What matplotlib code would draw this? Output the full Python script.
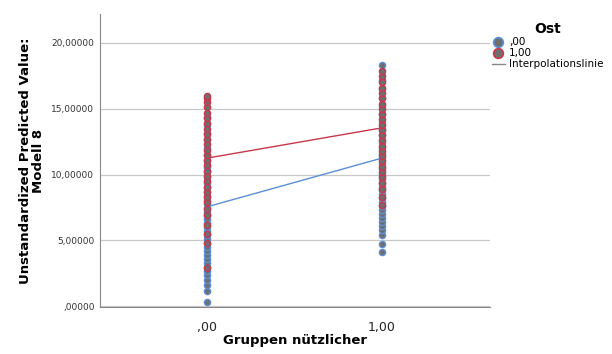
import numpy as np
import matplotlib.pyplot as plt
from matplotlib.lines import Line2D

# predicted values per group (Gruppen nuetzlicher = 0 / 1), split by Ost
blue_x0 = [0.3, 1.2, 1.6, 2.0, 2.4, 2.7, 3.0, 3.3, 3.6, 3.9, 4.2, 4.5, 4.8, 5.1, 5.4, 5.7,
           6.0, 6.3, 6.6, 6.9, 7.2, 7.5, 7.8, 8.1, 8.4, 8.7, 9.0, 9.4, 9.8, 10.2, 10.6,
           11.0, 11.5, 12.0, 12.6, 13.2, 13.8, 14.4]
red_x0 = [2.9, 4.8, 5.5, 6.2, 6.9, 7.4, 7.9, 8.3, 8.7, 9.1, 9.5, 9.9, 10.3, 10.7, 11.1,
          11.5, 11.9, 12.3, 12.7, 13.1, 13.5, 13.9, 14.3, 14.7, 15.1, 15.5, 15.8, 16.0]
blue_x1 = [4.15, 4.7, 5.45, 5.8, 6.1, 6.4, 6.7, 7.0, 7.3, 7.6, 7.9, 8.2, 8.5, 8.8, 9.1,
           9.4, 9.7, 10.0, 10.4, 10.8, 11.2, 11.6, 12.0, 12.5, 13.0, 13.5, 14.0, 14.6,
           15.2, 15.8, 16.5, 17.2, 18.3]
red_x1 = [7.7, 8.3, 8.9, 9.4, 9.8, 10.2, 10.6, 11.0, 11.4, 11.8, 12.2, 12.6, 13.0, 13.4,
          13.8, 14.2, 14.6, 15.0, 15.4, 15.8, 16.2, 16.6, 17.0, 17.5, 17.9]

# interpolation lines (group means)
groups = [0, 1]
line_ost0 = [7.55, 11.25]
line_ost1 = [11.25, 13.55]

yticks = [0, 5, 10, 15, 20]
ytick_labels = [',00000', '5,00000', '10,00000', '15,00000', '20,00000']
xtick_labels = [',00', '1,00']

blue = '#5b8fd6'
red = '#c8374a'
fill = '#6e6e6e'

fig = plt.figure(figsize=(6.12, 3.54), dpi=100)
ax = fig.add_axes([100 / 612, 47 / 354, 390 / 612, 293 / 354])

ax.scatter(np.zeros(len(blue_x0)), blue_x0, s=20, c=fill, edgecolors=blue, linewidths=1, zorder=3)
ax.scatter(np.ones(len(blue_x1)), blue_x1, s=20, c=fill, edgecolors=blue, linewidths=1, zorder=3)
ax.scatter(np.zeros(len(red_x0)), red_x0, s=20, c=fill, edgecolors=red, linewidths=1, zorder=4)
ax.scatter(np.ones(len(red_x1)), red_x1, s=20, c=fill, edgecolors=red, linewidths=1, zorder=4)

ax.plot(groups, line_ost0, color=blue, lw=1, zorder=2)
ax.plot(groups, line_ost1, color=red, lw=1, zorder=2)

ax.set_xlim(-0.61, 1.62)
ax.set_ylim(-0.05, 22.2)
ax.set_xticks(groups)
ax.set_xticklabels(xtick_labels, fontsize=9, color='#222222')
ax.set_yticks(yticks)
ax.set_yticklabels(ytick_labels, fontsize=6.5, color='#333333')
ax.tick_params(length=0)
ax.tick_params(axis='x', pad=10)
ax.tick_params(axis='y', pad=4)
ax.yaxis.grid(True, color='#c8c8c8', lw=0.9)
ax.set_axisbelow(True)
for s in ['top', 'right']:
    ax.spines[s].set_visible(False)
for s in ['left', 'bottom']:
    ax.spines[s].set_color('#888888')

ax.set_xlabel('Gruppen nützlicher', fontsize=9.5, fontweight='bold', va='center')
ax.xaxis.set_label_coords(0.5, -0.116)
ax.set_ylabel('Unstandardized Predicted Value:\nModell 8', fontsize=9.5,
              fontweight='bold', linespacing=1.0, va='center')
ax.yaxis.set_label_coords(-0.175, 0.5)

handles = [
    Line2D([], [], marker='o', ls='', markersize=7, markerfacecolor=fill,
           markeredgecolor=blue, markeredgewidth=1.2, label=',00'),
    Line2D([], [], marker='o', ls='', markersize=7, markerfacecolor=fill,
           markeredgecolor=red, markeredgewidth=1.2, label='1,00'),
    Line2D([], [], color='#888888', lw=1, label='Interpolationslinie'),
]
leg = fig.legend(handles=handles, title='Ost', loc='upper left',
                 bbox_to_anchor=(488 / 612, 1 - 18 / 354), frameon=False,
                 fontsize=7.5, handlelength=1.2, handletextpad=0.4,
                 labelspacing=0.1, borderaxespad=0)
leg.get_title().set_fontweight('bold')
leg.get_title().set_fontsize(10)

fig.savefig('out.png', dpi=100)
